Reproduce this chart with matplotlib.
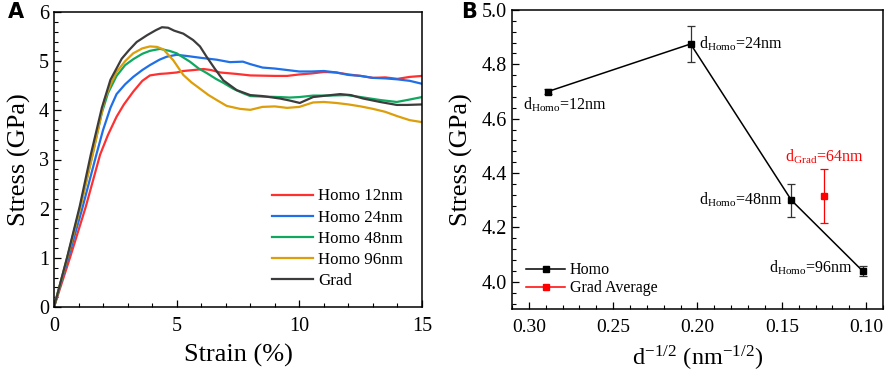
import matplotlib
matplotlib.use("Agg")
import matplotlib.pyplot as plt
from matplotlib.ticker import MultipleLocator, FormatStrFormatter

plt.rcParams['font.family'] = ['Liberation Serif', 'DejaVu Serif']
plt.rcParams['mathtext.fontset'] = 'stix'

# ---------------- Panel A data ----------------
strain_12 = [0, 0.65, 1.29, 1.88, 2.2, 2.55, 2.85, 3.23, 3.6, 3.91, 4.3, 4.59, 5.0, 5.27, 5.7, 6.09, 6.4, 6.77, 7.45, 8.0, 9.0, 9.5, 10.0, 10.5, 11.0, 11.5, 12.0, 12.5, 13.0, 13.5, 14.0, 14.5, 15.0]
stress_12 = [0, 1.0, 2.03, 3.1, 3.5, 3.87, 4.12, 4.38, 4.6, 4.71, 4.74, 4.75, 4.77, 4.8, 4.82, 4.84, 4.82, 4.77, 4.74, 4.71, 4.7, 4.7, 4.73, 4.75, 4.78, 4.77, 4.73, 4.7, 4.66, 4.67, 4.64, 4.68, 4.70]

strain_24 = [0, 0.58, 1.15, 1.7, 2.0, 2.3, 2.55, 2.9, 3.23, 3.6, 3.91, 4.3, 4.59, 5.0, 5.5, 5.95, 6.63, 7.17, 7.7, 8.0, 8.5, 9.0, 9.5, 10.0, 10.5, 11.0, 11.5, 12.0, 12.5, 13.0, 13.5, 14.0, 14.5, 15.0]
stress_24 = [0, 1.0, 2.0, 3.05, 3.6, 4.05, 4.33, 4.53, 4.68, 4.82, 4.92, 5.03, 5.09, 5.13, 5.1, 5.07, 5.03, 4.98, 4.99, 4.94, 4.87, 4.85, 4.82, 4.79, 4.79, 4.8, 4.77, 4.72, 4.7, 4.66, 4.65, 4.63, 4.6, 4.54]

strain_48 = [0, 0.54, 1.05, 1.5, 1.95, 2.2, 2.55, 2.9, 3.23, 3.6, 3.91, 4.32, 4.7, 5.0, 5.54, 5.9, 6.22, 6.6, 6.9, 7.3, 7.7, 8.0, 8.5, 9.2, 9.6, 10.0, 10.56, 11.2, 11.93, 12.5, 13.29, 13.97, 14.4, 15.0]
stress_48 = [0, 1.0, 2.0, 2.95, 3.95, 4.35, 4.7, 4.92, 5.04, 5.15, 5.21, 5.25, 5.21, 5.16, 4.99, 4.85, 4.76, 4.64, 4.56, 4.44, 4.35, 4.29, 4.28, 4.27, 4.26, 4.27, 4.3, 4.3, 4.31, 4.27, 4.21, 4.17, 4.21, 4.27]

strain_96 = [0, 0.54, 1.06, 1.6, 2.05, 2.3, 2.55, 2.9, 3.23, 3.6, 3.91, 4.2, 4.46, 4.86, 5.27, 5.6, 5.95, 6.3, 6.63, 7.04, 7.58, 8.0, 8.5, 9.0, 9.5, 10.0, 10.56, 11.0, 11.5, 12.0, 12.5, 13.0, 13.5, 14.0, 14.5, 15.0]
stress_96 = [0, 1.0, 2.0, 3.15, 4.2, 4.52, 4.78, 5.0, 5.16, 5.26, 5.30, 5.29, 5.24, 5.02, 4.72, 4.57, 4.44, 4.31, 4.21, 4.09, 4.03, 4.01, 4.07, 4.08, 4.05, 4.07, 4.16, 4.17, 4.15, 4.12, 4.08, 4.03, 3.97, 3.88, 3.80, 3.76]

strain_grad = [0, 0.54, 1.05, 1.5, 1.95, 2.3, 2.76, 3.05, 3.37, 3.8, 4.15, 4.4, 4.65, 4.9, 5.27, 5.67, 5.95, 6.22, 6.55, 6.9, 7.45, 8.0, 8.5, 9.21, 9.6, 10.02, 10.56, 11.1, 11.66, 12.1, 12.6, 13.29, 13.97, 14.4, 15.0]
stress_grad = [0, 1.02, 2.05, 3.1, 4.05, 4.62, 5.05, 5.22, 5.39, 5.53, 5.63, 5.69, 5.68, 5.62, 5.56, 5.43, 5.3, 5.09, 4.85, 4.61, 4.41, 4.31, 4.29, 4.24, 4.2, 4.15, 4.27, 4.3, 4.33, 4.31, 4.24, 4.17, 4.11, 4.11, 4.12]

labels_A = ["Homo 12nm", "Homo 24nm", "Homo 48nm", "Homo 96nm", "Grad"]
colors_A = ["#ff3030", "#1f6fe8", "#10a860", "#dc9e0a", "#3c3c3c"]

# ---------------- Panel B data ----------------
grain_homo = [12, 24, 48, 96]
d_homo = [0.2887, 0.2041, 0.1443, 0.1021]
stress_homo = [4.70, 4.875, 4.30, 4.04]
err_homo = [0.01, 0.065, 0.06, 0.02]
d_grad = [0.125]
stress_grad_avg = [4.315]
err_grad = [0.10]

fig = plt.figure(figsize=(8.86, 3.79), dpi=100)

# ----- Panel A -----
axA = fig.add_axes([54/886, 1-307/379, (422-54)/886, (307-12)/379])
series = [(strain_12, stress_12), (strain_24, stress_24), (strain_48, stress_48),
          (strain_96, stress_96), (strain_grad, stress_grad)]
for (sx, sy), lab, c in zip(series, labels_A, colors_A):
    axA.plot(sx, sy, color=c, lw=1.6, label=lab)
axA.set_xlim(0, 15)
axA.set_ylim(0, 6)
axA.xaxis.set_major_locator(MultipleLocator(5))
axA.xaxis.set_minor_locator(MultipleLocator(1))
axA.yaxis.set_major_locator(MultipleLocator(1))
axA.yaxis.set_minor_locator(MultipleLocator(0.2))
axA.set_xlabel("Strain (%)", fontsize=19, labelpad=6)
axA.set_ylabel("Stress (GPa)", fontsize=19, labelpad=6)
axA.legend(loc='lower right', bbox_to_anchor=(0.99, 0.01), frameon=False,
           fontsize=12.2, handlelength=2.4, handletextpad=0.3, labelspacing=0.3)

# ----- Panel B -----
axB = fig.add_axes([512/886, 1-309/379, (883-512)/886, (309-10)/379])
axB.errorbar(d_homo, stress_homo, yerr=err_homo, fmt='none', capsize=3,
             elinewidth=0.9, capthick=0.9, ecolor='#333333')
axB.plot(d_homo, stress_homo, color='black', lw=1.1, marker='s', ms=4.5, label='Homo')
axB.errorbar(d_grad, stress_grad_avg, yerr=err_grad, fmt='none', capsize=3,
             elinewidth=0.9, capthick=0.9, ecolor='red')
axB.plot(d_grad, stress_grad_avg, color='red', lw=1.1, marker='s', ms=4.5, label='Grad Average')
axB.set_xlim(0.31, 0.09)
axB.set_ylim(3.9, 5.0)
axB.xaxis.set_major_locator(MultipleLocator(0.05))
axB.xaxis.set_minor_locator(MultipleLocator(0.01))
axB.yaxis.set_major_locator(MultipleLocator(0.2))
axB.yaxis.set_minor_locator(MultipleLocator(0.04))
axB.xaxis.set_major_formatter(FormatStrFormatter('%.2f'))
axB.yaxis.set_major_formatter(FormatStrFormatter('%.1f'))
axB.set_xlabel(r"d$^{\mathregular{-1/2}}$ (nm$^{\mathregular{-1/2}}$)", fontsize=17.5, labelpad=6)
axB.set_ylabel("Stress (GPa)", fontsize=19, labelpad=6)
axB.legend(loc='lower left', bbox_to_anchor=(0.0, -0.005), frameon=False, fontsize=11.5,
           handlelength=2.4, handletextpad=0.3, labelspacing=0.12)

ann_fs = 11.5
lab = [r"d$_{\mathregular{Homo}}$=%dnm" % g for g in grain_homo]
axB.annotate(lab[0], (d_homo[0], stress_homo[0]), xytext=(-18, -10), textcoords='offset points',
             ha='left', va='center', fontsize=ann_fs)
axB.annotate(lab[1], (d_homo[1], stress_homo[1]), xytext=(6, 0), textcoords='offset points',
             ha='left', va='center', fontsize=ann_fs)
axB.annotate(lab[2], (d_homo[2], stress_homo[2]), xytext=(-6, 0), textcoords='offset points',
             ha='right', va='center', fontsize=ann_fs)
axB.annotate(lab[3], (d_homo[3], stress_homo[3]), xytext=(-7, 2), textcoords='offset points',
             ha='right', va='center', fontsize=ann_fs)
axB.annotate(r"d$_{\mathregular{Grad}}$=64nm", (d_grad[0], stress_grad_avg[0] + err_grad[0]),
             xytext=(0, 9), textcoords='offset points', ha='center', va='center',
             fontsize=ann_fs, color='red')

for ax in (axA, axB):
    ax.tick_params(which='both', direction='in', top=False, right=False, labelsize=14.5)
    ax.tick_params(which='major', length=5, width=0.9)
    ax.tick_params(which='minor', length=3, width=0.8)
    ax.tick_params(axis='x', pad=7)
    for s in ax.spines.values():
        s.set_linewidth(1.1)
axB.tick_params(axis='x', labelsize=14)

fig.text(8/886, 1-12/379, "A", fontsize=15, fontweight='bold', family='DejaVu Sans', va='center', ha='left')
fig.text(461/886, 1-12/379, "B", fontsize=15, fontweight='bold', family='DejaVu Sans', va='center', ha='left')

fig.savefig("out.png", dpi=100)
